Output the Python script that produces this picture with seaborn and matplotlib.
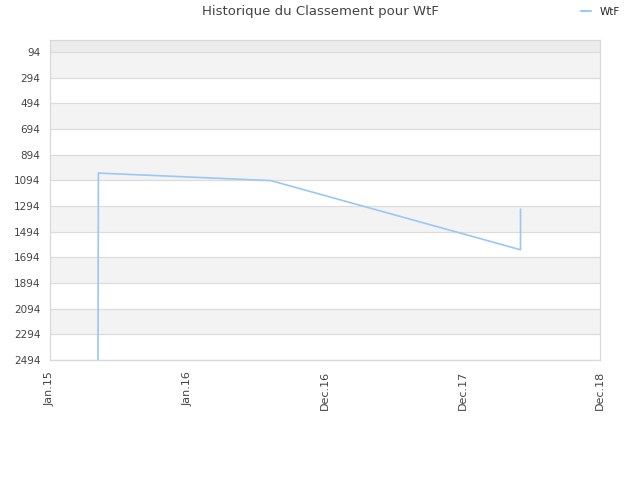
import matplotlib
matplotlib.use("Agg")
import matplotlib.pyplot as plt
import seaborn as sns
import pandas as pd
from matplotlib.lines import Line2D

# Data
tick_labels = ["Jan.15", "Jan.16", "Dec.16", "Dec.17", "Dec.18"]
tick_positions = [0, 1, 2, 3, 4]
x_pos = [0.349, 0.352, 1.607, 3.422, 3.422, 3.422]
ranks = [2494, 1037, 1096, 1635, 1424, 1318]
y_ticks = [94, 294, 494, 694, 894, 1094, 1294, 1494, 1694, 1894, 2094, 2294, 2494]
series_name = "WtF"

df = pd.DataFrame({"x": x_pos, "rank": ranks, "serie": series_name})

sns.set_style("white")
plt.rcParams['font.family'] = ['DejaVu Sans']

fig = plt.figure(figsize=(6.4, 4.8), dpi=100)
ax = fig.add_axes([50/640, 120/480, 550/640, 320/480])

# alternating bands
ax.axhspan(0, 94, color="#ececec", zorder=0, lw=0)
for i, t in enumerate(y_ticks[:-1]):
    if i % 2 == 0:
        ax.axhspan(t, t + 200, color="#f3f3f3", zorder=0, lw=0)
for t in y_ticks:
    ax.axhline(t, color="#dcdcdc", lw=0.9, zorder=1)

sns.lineplot(data=df, x="x", y="rank", hue="serie", estimator=None, sort=False,
             palette=["#99c8f5"], linewidth=1.2, ax=ax, legend=False, zorder=3)

ax.set_xlim(0, 4)
ax.set_ylim(2494, 0)
ax.set_yticks(y_ticks)
ax.set_yticklabels([str(t) for t in y_ticks], fontsize=7.5, color="#444444")
ax.set_xticks(tick_positions)
ax.set_xticklabels(tick_labels, rotation=90, fontsize=8, color="#444444")
ax.tick_params(axis="y", length=0, pad=7)
ax.tick_params(axis="x", length=0, pad=8)
ax.set_xlabel("")
ax.set_ylabel("")
for s in ax.spines.values():
    s.set_color("#d8d8d8")
    s.set_linewidth(0.9)

fig.text(320/640, 1 - 12/480, "Historique du Classement pour WtF", ha="center", va="center",
         fontsize=9.5, color="#444444")
# legend
h = [Line2D([0], [0], color="#99c8f5", lw=1.5)]
fig.legend(h, [series_name], loc="center", bbox_to_anchor=(600/640, 1 - 12/480), frameon=False,
           fontsize=7.5, handlelength=1.0, handletextpad=0.8)

fig.savefig("out.png", dpi=100)
